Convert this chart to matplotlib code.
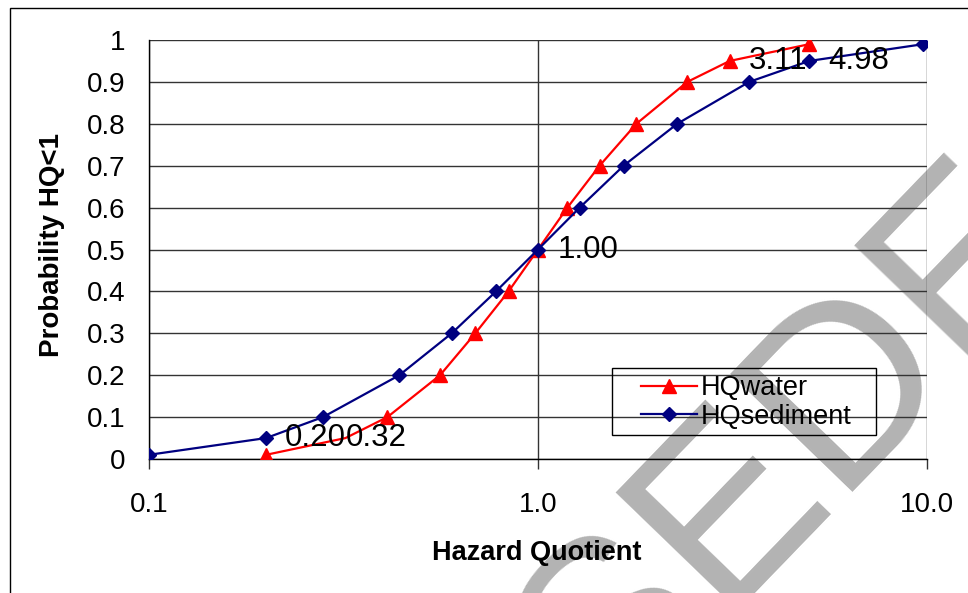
import matplotlib
matplotlib.use("Agg")
import matplotlib.pyplot as plt
from matplotlib.patches import Rectangle
from matplotlib.lines import Line2D
from matplotlib.ticker import FixedLocator, FuncFormatter, NullLocator

plt.rcParams['font.family'] = ['Liberation Sans', 'DejaVu Sans']

# ---- data ----
prob = [0.01, 0.05, 0.1, 0.2, 0.3, 0.4, 0.5, 0.6, 0.7, 0.8, 0.9, 0.95, 0.99]
hq_water = [0.20, 0.32, 0.41, 0.56, 0.69, 0.84, 1.00, 1.19, 1.44, 1.79, 2.42, 3.11, 4.98]
hq_sediment = [0.10, 0.20, 0.28, 0.44, 0.60, 0.78, 1.00, 1.28, 1.66, 2.28, 3.49, 4.98, 9.77]
series_names = ["HQwater", "HQsediment"]
x_ticks = [0.1, 1.0, 10.0]
y_ticks = [0, 0.1, 0.2, 0.3, 0.4, 0.5, 0.6, 0.7, 0.8, 0.9, 1]
label_probs = [0.05, 0.5, 0.95]
x_title = "Hazard Quotient"
y_title = "Probability HQ<1"
watermark = "SUPERSEDED"

W, H = 968, 593
fig = plt.figure(figsize=(W / 100, H / 100), dpi=100)

# watermark behind everything
fig.text(0.627, -0.239, watermark, fontsize=178, color='#b3b3b3', rotation=46,
         rotation_mode='anchor', ha='center', va='baseline', zorder=-5)

ax = fig.add_axes([149 / W, 1 - 459 / H, (927 - 149) / W, (459 - 40) / H])
ax.set_facecolor('none')

ax.plot(hq_water, prob, color='#ff0000', lw=1.6, marker='^', ms=10,
        markevery=[i for i in range(len(prob)) if i != 1], zorder=3,
        label=series_names[0])
ax.plot(hq_sediment, prob, color='#000080', lw=1.6, marker='D', ms=7.5, zorder=4,
        label=series_names[1])

ax.set_xscale('log')
ax.set_xlim(0.1, 10)
ax.set_ylim(0, 1)
ax.xaxis.set_major_locator(FixedLocator(x_ticks))
ax.xaxis.set_minor_locator(NullLocator())
ax.xaxis.set_major_formatter(FuncFormatter(lambda v, p: f"{v:.1f}"))
ax.yaxis.set_major_locator(FixedLocator(y_ticks))
ax.yaxis.set_major_formatter(FuncFormatter(lambda v, p: f"{v:g}"))

ax.grid(True, which='major', color='#333333', lw=1.0)
ax.set_axisbelow(True)
for s in ['top', 'right']:
    ax.spines[s].set_visible(False)
for s in ['left', 'bottom']:
    ax.spines[s].set_color('black')
    ax.spines[s].set_linewidth(1.0)

ax.tick_params(axis='x', which='major', length=7, width=1, color='#333333',
               labelsize=20, pad=17, direction='out')
ax.tick_params(axis='y', which='major', length=0, labelsize=20, pad=17)

ax.set_xlabel(x_title, fontsize=19.5, fontweight='bold', va='center')
ax.xaxis.set_label_coords(0.4987, -0.2243)
ax.set_ylabel(y_title, fontsize=20, fontweight='bold', va='center')
ax.yaxis.set_label_coords(-0.1247, 0.51)

# data labels at the 5th, 50th, 95th percentiles
label_offsets = {("w", 0.05): 0.3, ("w", 0.5): 14, ("w", 0.95): 13.7,
                 ("s", 0.05): 13.7, ("s", 0.5): 14, ("s", 0.95): 13.7}
for key, xs in (("s", hq_sediment), ("w", hq_water)):
    for p in label_probs:
        if key == "w" and p == 0.5:
            continue
        i = prob.index(p)
        ax.annotate(f"{xs[i]:.2f}", xy=(xs[i], p), xytext=(label_offsets[(key, p)], 0),
                    textcoords='offset points', ha='left', va='center',
                    fontsize=22.5, color='black', zorder=6)

# legend
handles = [Line2D([], [], color='#ff0000', lw=1.6, marker='^', ms=10),
           Line2D([], [], color='#000080', lw=1.6, marker='D', ms=7.5)]
leg = ax.legend(handles, series_names, loc='center left',
                bbox_to_anchor=((641 - 149) / 778, (459 - 402.5) / 419),
                frameon=False, fontsize=19.5, handlelength=2.05, handletextpad=0.15,
                labelspacing=0.08, borderpad=0, borderaxespad=0)
ax.add_patch(Rectangle(((612 - 149) / 778, (459 - 435) / 419), (876 - 612) / 778,
                       (435 - 368) / 419, transform=ax.transAxes, fill=False,
                       ec='black', lw=1.0, zorder=5))

# outer chart border
fig.add_artist(Rectangle((10 / W, -0.5), 2, 1.5 - 8 / H, transform=fig.transFigure,
                         fill=False, ec='black', lw=1.0))

fig.savefig("out.png", dpi=100)
